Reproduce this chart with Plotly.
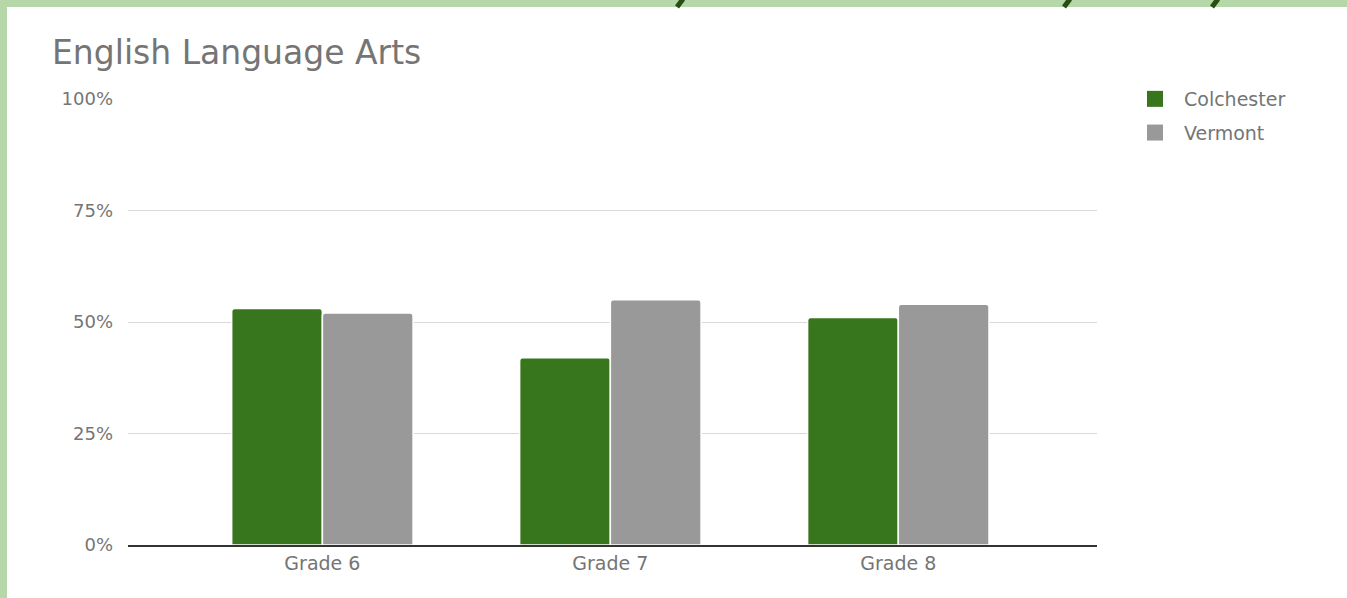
import plotly.graph_objects as go

categories = ["Grade 6", "Grade 7", "Grade 8"]
colchester = [0.53, 0.42, 0.51]
vermont = [0.52, 0.55, 0.54]
tick_vals = [0, 0.25, 0.5, 0.75, 1.0]
tick_text = ["0%", "25%", "50%", "75%", "100%"]
series_names = ["Colchester", "Vermont"]
series_colors = ["#38761d", "#999999"]

W, H = 1347, 598
L, R, T, B = 128, 250, 99, 53
PW, PH = W - L - R, H - T - B


def px(x):
    return (x - L) / PW


def py(y):
    return (H - B - y) / PH


fig = go.Figure()
for name, vals, col in zip(series_names, [colchester, vermont], series_colors):
    fig.add_trace(go.Bar(name=name, x=categories, y=vals, showlegend=False, legendgroup=name,
                         marker=dict(color=col, line=dict(color="white", width=1.5), cornerradius=3)))
# legend entries with larger square swatches
for name, col in zip(series_names, series_colors):
    fig.add_trace(go.Scatter(name=name, x=[None], y=[None], mode="markers", legendgroup=name,
                             marker=dict(symbol="square", size=16, color=col)))

shapes = [
    dict(type="rect", xref="paper", yref="paper", x0=px(7), x1=px(W + 5), y0=py(H + 5), y1=py(7),
         fillcolor="white", line=dict(width=0), layer="below"),
]
for xt, xb in [(683, 677), (1070, 1064), (1218, 1212)]:
    shapes.append(dict(type="line", xref="paper", yref="paper", x0=px(xt), y0=py(-1), x1=px(xb), y1=py(7),
                       line=dict(color="#274e13", width=5), layer="above"))

fig.update_layout(
    width=W, height=H,
    margin=dict(l=L, r=R, t=T, b=B),
    paper_bgcolor="#b6d7a8",
    plot_bgcolor="rgba(0,0,0,0)",
    barmode="group",
    bargap=0.37,
    bargroupgap=0.0,
    font=dict(family="DejaVu Sans", color="#757575"),
    shapes=shapes,
    annotations=[dict(text="English Language Arts", xref="paper", yref="paper", x=px(50), y=py(52),
                      xanchor="left", yanchor="middle", showarrow=False,
                      font=dict(family="DejaVu Sans", size=33, color="#757575"))],
    legend=dict(x=px(1126), y=py(80), xanchor="left", yanchor="top", bgcolor="rgba(0,0,0,0)",
                font=dict(family="DejaVu Sans", size=19, color="#757575"), itemwidth=48,
                itemsizing="trace", traceorder="grouped", tracegroupgap=6),
    xaxis=dict(range=[-0.675, 2.69], showgrid=False, showline=True, linecolor="#333333", linewidth=1.5,
               ticks="", tickfont=dict(size=19, color="#757575"), fixedrange=True),
    yaxis=dict(range=[0, 1], tickvals=tick_vals, ticktext=tick_text, showgrid=True, gridcolor="#d9d9d9",
               gridwidth=1, zeroline=False, ticks="", ticklabelstandoff=14,
               tickfont=dict(size=18, color="#757575"), fixedrange=True),
)

fig.write_html("out.html", config={"displayModeBar": False},
               post_script="document.body.style.margin='0';document.body.style.overflow='hidden';")
